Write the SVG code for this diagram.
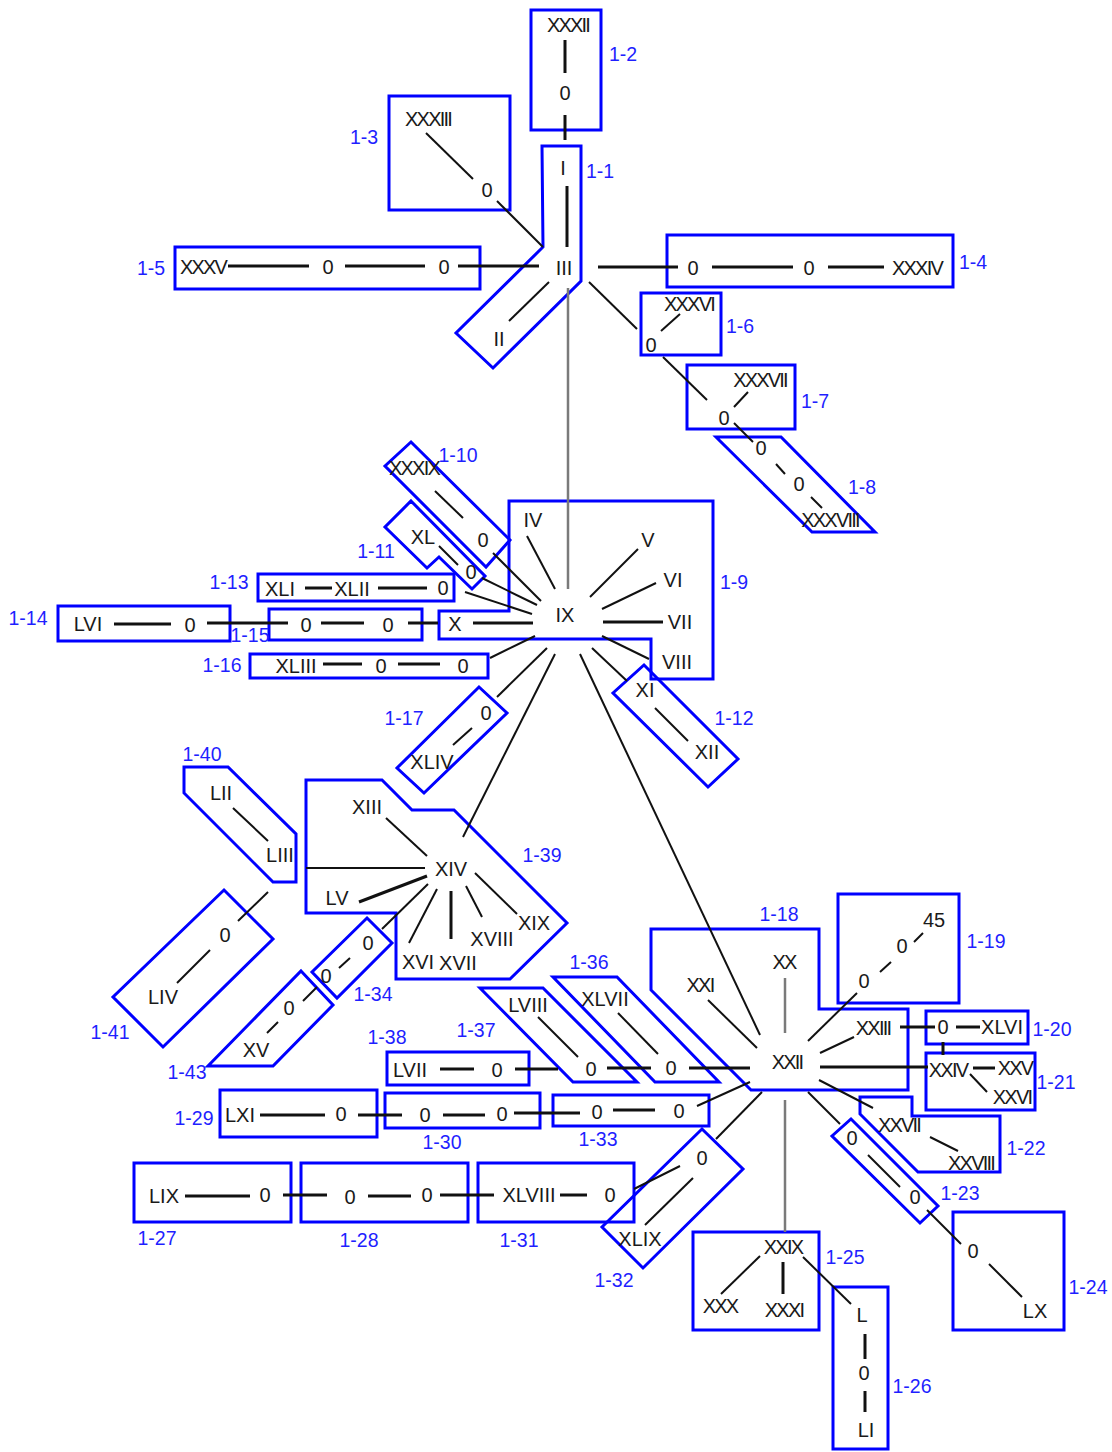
<svg xmlns="http://www.w3.org/2000/svg" width="1112" height="1452" viewBox="0 0 1112 1452">
<style>
.b{fill:none;stroke:#0000ff;stroke-width:3}
.c{stroke:#111;stroke-width:2;fill:none}
.t{stroke-width:3}
.g{stroke:#7a7a7a;stroke-width:2.5}
text{font-family:"Liberation Sans",Arial,sans-serif;font-size:20px;text-anchor:middle}
.n{fill:#1a1a1a}
.x{letter-spacing:-1.8px}
.l{fill:#1f1fff;font-size:19.5px}
</style>
<rect width="1112" height="1452" fill="#fff"/>

<!-- nodes -->
<g id="n1-1"><polygon class="b" points="542,146 581,146 581,281 493,368 456,333 543,247"/>
<text class="n" x="563" y="175">I</text><text class="n" x="564" y="275">III</text><text class="n" x="499" y="346">II</text>
<text class="l" x="600" y="178">1-1</text></g>
<g id="n1-2"><rect class="b" x="531" y="10" width="70" height="120"/>
<text class="n x" x="568" y="32">XXXII</text><text class="n" x="565" y="100">0</text>
<text class="l" x="623" y="61">1-2</text></g>
<g id="n1-3"><rect class="b" x="389" y="96" width="121" height="114"/>
<text class="n x" x="428" y="126">XXXIII</text><text class="n" x="487" y="197">0</text>
<text class="l" x="364" y="144">1-3</text></g>
<g id="n1-4"><rect class="b" x="667" y="235" width="286" height="52"/>
<text class="n" x="693" y="275">0</text><text class="n" x="809" y="275">0</text><text class="n x" x="917" y="275">XXXIV</text>
<text class="l" x="973" y="269">1-4</text></g>
<g id="n1-5"><rect class="b" x="175" y="247" width="305" height="42"/>
<text class="n x" x="203" y="274">XXXV</text><text class="n" x="328" y="274">0</text><text class="n" x="444" y="274">0</text>
<text class="l" x="151" y="275">1-5</text></g>
<g id="n1-6"><rect class="b" x="641" y="293" width="80" height="62"/>
<text class="n x" x="689" y="311">XXXVI</text><text class="n" x="651" y="352">0</text>
<text class="l" x="740" y="333">1-6</text></g>
<g id="n1-7"><rect class="b" x="687" y="365" width="108" height="64"/>
<text class="n x" x="760" y="387">XXXVII</text><text class="n" x="724" y="425">0</text>
<text class="l" x="815" y="408">1-7</text></g>
<g id="n1-8"><polygon class="b" points="716,437 781,437 875,532 812,532"/>
<text class="n" x="761" y="455">0</text><text class="n" x="799" y="491">0</text><text class="n x" x="830" y="527">XXXVIII</text>
<text class="l" x="862" y="494">1-8</text></g>
<g id="n1-9"><polygon class="b" points="509,501 713,501 713,679 651,679 651,639 439,639 439,611 509,611"/>
<text class="n" x="533" y="527">IV</text><text class="n" x="648" y="547">V</text><text class="n" x="673" y="587">VI</text>
<text class="n" x="680" y="629">VII</text><text class="n" x="677" y="669">VIII</text><text class="n" x="565" y="622">IX</text><text class="n" x="455" y="631">X</text>
<text class="l" x="734" y="589">1-9</text></g>
<g id="n1-10"><polygon class="b" points="411,442 510,540 486,567 385,466"/>
<text class="n x" x="414" y="475">XXXIX</text><text class="n" x="483" y="547">0</text>
<text class="l" x="458" y="462">1-10</text></g>
<g id="n1-11"><polygon class="b" points="411,501 485,576 472,589 439,557 427,568 385,527"/>
<text class="n" x="423" y="544">XL</text><text class="n" x="471" y="579">0</text>
<text class="l" x="376" y="558">1-11</text></g>
<g id="n1-12"><polygon class="b" points="644,665 738,759 708,787 613,693"/>
<text class="n" x="645" y="697">XI</text><text class="n" x="707" y="759">XII</text>
<text class="l" x="734" y="725">1-12</text></g>
<g id="n1-13"><rect class="b" x="258" y="574" width="196" height="27"/>
<text class="n" x="280" y="596">XLI</text><text class="n" x="352" y="596">XLII</text><text class="n" x="443" y="595">0</text>
<text class="l" x="229" y="589">1-13</text></g>
<g id="n1-14"><rect class="b" x="58" y="606" width="172" height="35"/>
<text class="n" x="88" y="631">LVI</text><text class="n" x="190" y="632">0</text>
<text class="l" x="28" y="625">1-14</text></g>
<g id="n1-15"><rect class="b" x="269" y="609" width="153" height="31"/>
<text class="n" x="306" y="632">0</text><text class="n" x="388" y="632">0</text>
<text class="l" x="250" y="642">1-15</text></g>
<g id="n1-16"><rect class="b" x="250" y="654" width="238" height="24"/>
<text class="n" x="296" y="673">XLIII</text><text class="n" x="381" y="673">0</text><text class="n" x="463" y="673">0</text>
<text class="l" x="222" y="672">1-16</text></g>
<g id="n1-17"><polygon class="b" points="479,687 507,713 424,793 397,768"/>
<text class="n" x="486" y="720">0</text><text class="n" x="432" y="769">XLIV</text>
<text class="l" x="404" y="725">1-17</text></g>
<g id="n1-18"><polygon class="b" points="651,929 819,929 819,1009 908,1009 908,1090 751,1090 651,990"/>
<text class="n x" x="784" y="969">XX</text><text class="n x" x="700" y="992">XXI</text><text class="n x" x="787" y="1069">XXII</text><text class="n x" x="873" y="1035">XXIII</text>
<text class="l" x="779" y="921">1-18</text></g>
<g id="n1-19"><rect class="b" x="838" y="894" width="121" height="109"/>
<text class="n" x="934" y="927">45</text><text class="n" x="902" y="953">0</text><text class="n" x="864" y="988">0</text>
<text class="l" x="986" y="948">1-19</text></g>
<g id="n1-20"><rect class="b" x="926" y="1011" width="102" height="33"/>
<text class="n" x="943" y="1034">0</text><text class="n" x="1002" y="1034">XLVI</text>
<text class="l" x="1052" y="1036">1-20</text></g>
<g id="n1-21"><rect class="b" x="926" y="1053" width="109" height="57"/>
<text class="n x" x="948" y="1077">XXIV</text><text class="n x" x="1015" y="1075">XXV</text><text class="n x" x="1012" y="1104">XXVI</text>
<text class="l" x="1056" y="1089">1-21</text></g>
<g id="n1-22"><polygon class="b" points="860,1097 912,1097 912,1116 1000,1116 1000,1172 918,1172 860,1114"/>
<text class="n x" x="899" y="1132">XXVII</text><text class="n x" x="971" y="1170">XXVIII</text>
<text class="l" x="1026" y="1155">1-22</text></g>
<g id="n1-23"><polygon class="b" points="851,1119 938,1206 920,1223 832,1136"/>
<text class="n" x="852" y="1145">0</text><text class="n" x="915" y="1204">0</text>
<text class="l" x="960" y="1200">1-23</text></g>
<g id="n1-24"><rect class="b" x="953" y="1212" width="111" height="118"/>
<text class="n" x="973" y="1258">0</text><text class="n" x="1035" y="1318">LX</text>
<text class="l" x="1088" y="1294">1-24</text></g>
<g id="n1-25"><rect class="b" x="693" y="1232" width="126" height="98"/>
<text class="n x" x="783" y="1254">XXIX</text><text class="n x" x="720" y="1313">XXX</text><text class="n x" x="784" y="1317">XXXI</text>
<text class="l" x="845" y="1264">1-25</text></g>
<g id="n1-26"><rect class="b" x="833" y="1287" width="55" height="162"/>
<text class="n" x="862" y="1322">L</text><text class="n" x="864" y="1380">0</text><text class="n" x="866" y="1437">LI</text>
<text class="l" x="912" y="1393">1-26</text></g>
<g id="n1-27"><rect class="b" x="134" y="1163" width="157" height="59"/>
<text class="n" x="164" y="1203">LIX</text><text class="n" x="265" y="1202">0</text>
<text class="l" x="157" y="1245">1-27</text></g>
<g id="n1-28"><rect class="b" x="301" y="1163" width="167" height="59"/>
<text class="n" x="350" y="1204">0</text><text class="n" x="427" y="1202">0</text>
<text class="l" x="359" y="1247">1-28</text></g>
<g id="n1-29"><rect class="b" x="220" y="1090" width="157" height="47"/>
<text class="n" x="240" y="1122">LXI</text><text class="n" x="341" y="1121">0</text>
<text class="l" x="194" y="1125">1-29</text></g>
<g id="n1-30"><rect class="b" x="385" y="1093" width="155" height="35"/>
<text class="n" x="425" y="1122">0</text><text class="n" x="502" y="1121">0</text>
<text class="l" x="442" y="1149">1-30</text></g>
<g id="n1-31"><rect class="b" x="478" y="1163" width="156" height="59"/>
<text class="n" x="529" y="1202">XLVIII</text><text class="n" x="610" y="1202">0</text>
<text class="l" x="519" y="1247">1-31</text></g>
<g id="n1-32"><polygon class="b" points="702,1129 743,1169 643,1268 602,1227"/>
<text class="n" x="702" y="1165">0</text><text class="n" x="640" y="1246">XLIX</text>
<text class="l" x="614" y="1287">1-32</text></g>
<g id="n1-33"><rect class="b" x="553" y="1095" width="156" height="31"/>
<text class="n" x="597" y="1119">0</text><text class="n" x="679" y="1118">0</text>
<text class="l" x="598" y="1146">1-33</text></g>
<g id="n1-34"><polygon class="b" points="367,918 392,943 337,998 312,972"/>
<text class="n" x="368" y="950">0</text><text class="n" x="326" y="983">0</text>
<text class="l" x="373" y="1001">1-34</text></g>
<g id="n1-36"><polygon class="b" points="553,977 617,977 719,1082 655,1082"/>
<text class="n" x="605" y="1006">XLVII</text><text class="n" x="671" y="1075">0</text>
<text class="l" x="589" y="969">1-36</text></g>
<g id="n1-37"><polygon class="b" points="480,988 543,988 637,1082 573,1082"/>
<text class="n" x="528" y="1012">LVIII</text><text class="n" x="591" y="1076">0</text>
<text class="l" x="476" y="1037">1-37</text></g>
<g id="n1-38"><rect class="b" x="387" y="1052" width="142" height="33"/>
<text class="n" x="410" y="1077">LVII</text><text class="n" x="497" y="1077">0</text>
<text class="l" x="387" y="1044">1-38</text></g>
<g id="n1-39"><polygon class="b" points="306,780 382,780 412,810 454,810 567,923 510,979 396,979 396,913 306,913"/>
<text class="n" x="367" y="814">XIII</text><text class="n" x="451" y="876">XIV</text><text class="n" x="337" y="905">LV</text>
<text class="n" x="418" y="969">XVI</text><text class="n" x="458" y="970">XVII</text><text class="n" x="492" y="946">XVIII</text><text class="n" x="534" y="930">XIX</text>
<text class="l" x="542" y="862">1-39</text></g>
<g id="n1-40"><polygon class="b" points="184,767 228,767 296,834 296,882 273,882 184,793"/>
<text class="n" x="221" y="800">LII</text><text class="n" x="280" y="862">LIII</text>
<text class="l" x="202" y="761">1-40</text></g>
<g id="n1-41"><polygon class="b" points="224,890 273,939 163,1047 113,997"/>
<text class="n" x="225" y="942">0</text><text class="n" x="163" y="1004">LIV</text>
<text class="l" x="110" y="1039">1-41</text></g>
<g id="n1-43"><polygon class="b" points="301,971 333,1005 273,1066 208,1066"/>
<text class="n" x="289" y="1015">0</text><text class="n" x="256" y="1057">XV</text>
<text class="l" x="187" y="1079">1-43</text></g>

<!-- connectors -->
<g id="connectors" class="c">
<line class="t" x1="565" y1="40" x2="565" y2="73"/>
<line class="t" x1="565" y1="115" x2="565" y2="140"/>
<line class="t" x1="567" y1="186" x2="567" y2="247"/>
<line x1="509" y1="321" x2="549" y2="282"/>
<line x1="426" y1="133" x2="473" y2="179"/>
<line x1="497" y1="201" x2="543" y2="247"/>
<line class="t" x1="228" y1="266" x2="309" y2="266"/>
<line class="t" x1="345" y1="266" x2="425" y2="266"/>
<line class="t" x1="458" y1="266" x2="539" y2="266"/>
<line class="t" x1="598" y1="267" x2="678" y2="267"/>
<line class="t" x1="712" y1="267" x2="793" y2="267"/>
<line class="t" x1="828" y1="267" x2="884" y2="267"/>
<line x1="589" y1="282" x2="637" y2="329"/>
<line x1="661" y1="331" x2="680" y2="314"/>
<line x1="663" y1="357" x2="707" y2="400"/>
<line x1="734" y1="407" x2="748" y2="392"/>
<line x1="734" y1="423" x2="753" y2="442"/>
<line x1="776" y1="464" x2="785" y2="474"/>
<line x1="811" y1="497" x2="822" y2="508"/>
<line class="g" x1="568" y1="288" x2="568" y2="589"/>
<line x1="527" y1="536" x2="555" y2="589"/>
<line x1="590" y1="597" x2="638" y2="549"/>
<line x1="602" y1="609" x2="656" y2="583"/>
<line class="t" x1="603" y1="622" x2="663" y2="622"/>
<line x1="602" y1="636" x2="649" y2="659"/>
<line class="t" x1="473" y1="623" x2="533" y2="623"/>
<line x1="592" y1="648" x2="627" y2="681"/>
<line x1="493" y1="553" x2="541" y2="601"/>
<line x1="482" y1="578" x2="537" y2="605"/>
<line x1="465" y1="592" x2="532" y2="614"/>
<line x1="490" y1="658" x2="535" y2="636"/>
<line x1="497" y1="697" x2="547" y2="648"/>
<line x1="555" y1="654" x2="463" y2="837"/>
<line x1="580" y1="654" x2="760" y2="1035"/>
<line x1="435" y1="491" x2="463" y2="518"/>
<line x1="439" y1="546" x2="458" y2="565"/>
<line class="t" x1="305" y1="588" x2="332" y2="588"/>
<line class="t" x1="378" y1="588" x2="427" y2="588"/>
<line class="t" x1="114" y1="624" x2="171" y2="624"/>
<line class="t" x1="207" y1="623" x2="288" y2="623"/>
<line class="t" x1="321" y1="623" x2="364" y2="623"/>
<line class="t" x1="408" y1="623" x2="438" y2="623"/>
<line class="t" x1="323" y1="664" x2="362" y2="664"/>
<line class="t" x1="398" y1="664" x2="440" y2="664"/>
<line x1="453" y1="745" x2="472" y2="728"/>
<line x1="655" y1="708" x2="688" y2="741"/>
<line x1="386" y1="818" x2="427" y2="856"/>
<line x1="306" y1="868" x2="425" y2="868"/>
<line class="t" x1="359" y1="902" x2="427" y2="876"/>
<line x1="409" y1="943" x2="437" y2="889"/>
<line class="t" x1="451" y1="939" x2="451" y2="891"/>
<line x1="482" y1="917" x2="466" y2="886"/>
<line x1="517" y1="914" x2="475" y2="873"/>
<line x1="428" y1="884" x2="382" y2="929"/>
<line x1="233" y1="808" x2="268" y2="841"/>
<line x1="268" y1="892" x2="238" y2="921"/>
<line x1="177" y1="983" x2="210" y2="950"/>
<line x1="339" y1="968" x2="350" y2="958"/>
<line x1="303" y1="1001" x2="317" y2="987"/>
<line x1="267" y1="1033" x2="278" y2="1022"/>
<line class="g" x1="785" y1="978" x2="785" y2="1033"/>
<line x1="708" y1="1000" x2="757" y2="1048"/>
<line x1="808" y1="1041" x2="857" y2="993"/>
<line x1="880" y1="972" x2="891" y2="962"/>
<line x1="914" y1="942" x2="923" y2="933"/>
<line x1="820" y1="1053" x2="854" y2="1037"/>
<line class="t" x1="900" y1="1027" x2="935" y2="1027"/>
<line class="t" x1="956" y1="1027" x2="980" y2="1027"/>
<line class="t" x1="943" y1="1042" x2="943" y2="1055"/>
<line class="t" x1="820" y1="1067" x2="928" y2="1067"/>
<line class="t" x1="973" y1="1068" x2="995" y2="1068"/>
<line x1="970" y1="1074" x2="987" y2="1092"/>
<line x1="819" y1="1080" x2="873" y2="1108"/>
<line x1="930" y1="1137" x2="958" y2="1151"/>
<line x1="808" y1="1092" x2="840" y2="1124"/>
<line x1="868" y1="1155" x2="900" y2="1187"/>
<line x1="927" y1="1210" x2="961" y2="1244"/>
<line x1="989" y1="1264" x2="1022" y2="1297"/>
<line class="g" x1="785" y1="1100" x2="785" y2="1232"/>
<line x1="760" y1="1256" x2="721" y2="1294"/>
<line class="t" x1="783" y1="1262" x2="783" y2="1294"/>
<line x1="803" y1="1257" x2="851" y2="1304"/>
<line class="t" x1="865" y1="1334" x2="865" y2="1359"/>
<line class="t" x1="865" y1="1391" x2="865" y2="1412"/>
<line x1="762" y1="1092" x2="716" y2="1139"/>
<line x1="680" y1="1166" x2="634" y2="1189"/>
<line x1="693" y1="1178" x2="645" y2="1225"/>
<line x1="697" y1="1106" x2="750" y2="1082"/>
<line class="t" x1="613" y1="1110" x2="655" y2="1110"/>
<line class="t" x1="514" y1="1113" x2="580" y2="1113"/>
<line class="t" x1="443" y1="1115" x2="485" y2="1115"/>
<line class="t" x1="358" y1="1115" x2="402" y2="1115"/>
<line class="t" x1="260" y1="1115" x2="325" y2="1115"/>
<line class="t" x1="185" y1="1196" x2="250" y2="1196"/>
<line class="t" x1="283" y1="1195" x2="327" y2="1195"/>
<line class="t" x1="368" y1="1196" x2="411" y2="1196"/>
<line class="t" x1="440" y1="1195" x2="494" y2="1195"/>
<line class="t" x1="560" y1="1195" x2="587" y2="1195"/>
<line class="t" x1="440" y1="1069" x2="474" y2="1069"/>
<line class="t" x1="515" y1="1069" x2="558" y2="1069"/>
<line x1="538" y1="1017" x2="578" y2="1057"/>
<line class="t" x1="607" y1="1068" x2="651" y2="1068"/>
<line x1="618" y1="1013" x2="658" y2="1054"/>
<line class="t" x1="689" y1="1068" x2="750" y2="1068"/>
</g>
</svg>
